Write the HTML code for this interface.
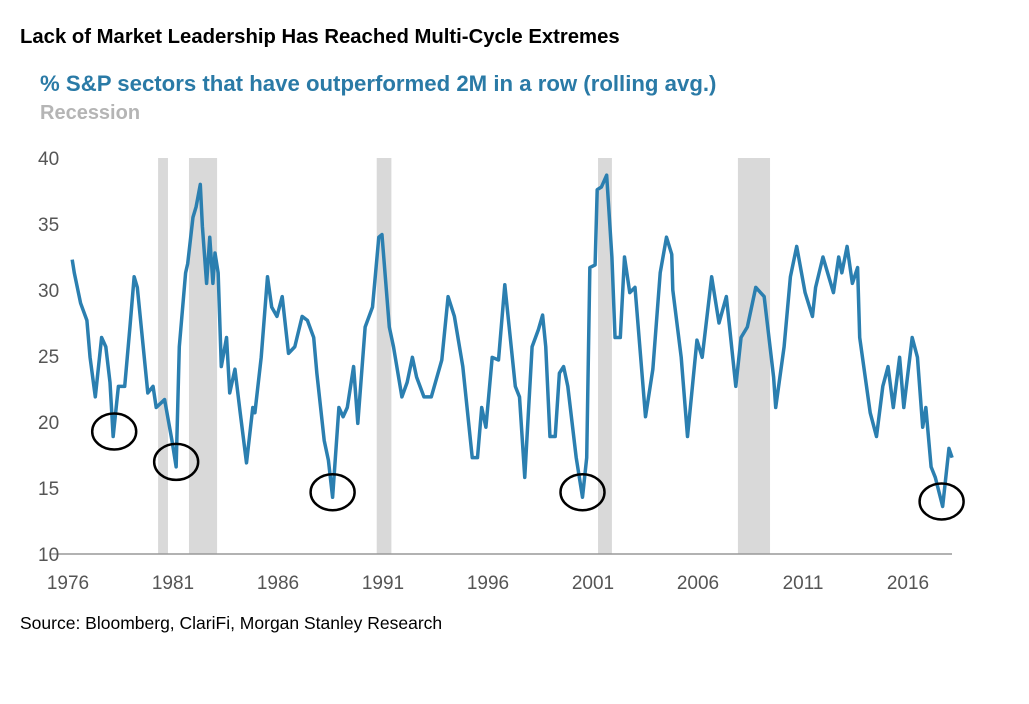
<!DOCTYPE html>
<html><head><meta charset="utf-8"><style>
body{margin:0;background:#fff;width:1029px;height:699px;overflow:hidden;font-family:"Liberation Sans",sans-serif}
</style></head><body>
<svg width="1029" height="699">
<text x="20" y="43" font-size="20.3" font-weight="bold" fill="#000">Lack of Market Leadership Has Reached Multi-Cycle Extremes</text>
<text x="40" y="91" font-size="22.2" font-weight="bold" fill="#2a7aa6">% S&amp;P sectors that have outperformed 2M in a row (rolling avg.)</text>
<text x="40" y="119" font-size="20" font-weight="bold" fill="#b5b5b5">Recession</text>
<g id="rec"></g><g id="axes"></g><g id="line"></g><g id="circ"></g>
<text x="20" y="629" font-size="17.5" fill="#000">Source: Bloomberg, ClariFi, Morgan Stanley Research</text>
</svg>
<script>
const years=[1976.2,1976.3,1976.6,1976.9,1977.05,1977.3,1977.6,1977.8,1978.0,1978.15,1978.4,1978.7,1978.95,1979.15,1979.3,1979.8,1980.05,1980.2,1980.6,1980.95,1981.15,1981.3,1981.6,1981.7,1981.95,1982.1,1982.3,1982.4,1982.6,1982.75,1982.9,1983.0,1983.15,1983.3,1983.55,1983.7,1983.95,1984.2,1984.5,1984.8,1984.9,1985.2,1985.5,1985.7,1985.95,1986.2,1986.5,1986.8,1987.15,1987.4,1987.7,1987.85,1988.2,1988.4,1988.6,1988.9,1989.1,1989.3,1989.6,1989.8,1990.15,1990.5,1990.8,1990.95,1991.3,1991.5,1991.9,1992.15,1992.4,1992.6,1992.95,1993.3,1993.8,1994.1,1994.4,1994.8,1995.25,1995.5,1995.7,1995.9,1996.2,1996.5,1996.8,1997.3,1997.5,1997.75,1998.1,1998.4,1998.6,1998.75,1998.95,1999.2,1999.4,1999.6,1999.8,2000.2,2000.5,2000.7,2000.85,2001.1,2001.2,2001.4,2001.65,2001.9,2002.05,2002.3,2002.5,2002.75,2003.0,2003.5,2003.85,2004.2,2004.5,2004.75,2004.8,2005.2,2005.5,2005.95,2006.2,2006.65,2007.0,2007.35,2007.8,2008.05,2008.35,2008.75,2009.15,2009.6,2009.7,2010.1,2010.4,2010.7,2011.1,2011.45,2011.6,2011.95,2012.45,2012.7,2012.85,2013.1,2013.35,2013.6,2013.7,2014.2,2014.5,2014.8,2015.05,2015.3,2015.6,2015.8,2016.2,2016.45,2016.7,2016.85,2017.1,2017.3,2017.65,2017.95,2018.1];
const values=[32.3,31.3,29.0,27.7,24.9,21.9,26.4,25.7,23.0,18.9,22.7,22.7,27.2,31.0,30.2,22.2,22.7,21.1,21.7,18.6,16.6,25.7,31.3,32.0,35.5,36.3,38.0,34.8,30.5,34.0,30.5,32.8,31.3,24.2,26.4,22.2,24.0,20.7,16.9,21.1,20.7,24.9,31.0,28.7,28.0,29.5,25.2,25.7,28.0,27.7,26.4,23.7,18.6,17.1,14.3,21.1,20.4,21.1,24.2,19.9,27.2,28.7,34.0,34.2,27.2,25.7,21.9,23.0,24.9,23.4,21.9,21.9,24.7,29.5,28.0,24.2,17.3,17.3,21.1,19.6,24.9,24.7,30.4,22.7,21.9,15.8,25.7,27.0,28.1,25.7,18.9,18.9,23.7,24.2,22.7,17.3,14.3,17.3,31.7,31.9,37.6,37.8,38.7,32.5,26.4,26.4,32.5,29.8,30.2,20.4,24.0,31.3,34.0,32.7,30.0,24.9,18.9,26.2,24.9,31.0,27.5,29.5,22.7,26.4,27.2,30.2,29.5,23.4,21.1,25.7,31.0,33.3,29.8,28.0,30.2,32.5,29.8,32.5,31.3,33.3,30.5,31.7,26.4,20.7,18.9,22.7,24.2,21.1,24.9,21.1,26.4,24.9,19.6,21.1,16.6,15.8,13.6,18.0,17.3];
const recStart=[1980.29,1981.76,1990.7,2001.24,2007.9];
const recEnd=[1980.76,1983.1,1991.4,2001.9,2009.43];
const yTicks=[10,15,20,25,30,35,40];
const xTicks=[1976,1981,1986,1991,1996,2001,2006,2011,2016];
const circleYears=[1978.2,1981.15,1988.6,2000.5,2017.6];
const circleVals=[18.9,16.6,14.3,14.3,13.6];
const NS='http://www.w3.org/2000/svg';
const X=y=>68+(y-1976)*21, Y=v=>554-(v-10)*13.2;
function mk(t,a,p){const e=document.createElementNS(NS,t);for(const k in a)e.setAttribute(k,a[k]);p.appendChild(e);return e;}
const rec=document.getElementById('rec');
recStart.forEach((s,i)=>{const r=mk('rect',{x:X(s),y:158,width:X(recEnd[i])-X(s),height:396,fill:'#d9d9d9'},rec);

});
const ax=document.getElementById('axes');
const bl=mk('line',{x1:50,x2:952,y1:554,y2:554,stroke:'#999','stroke-width':1.5},ax);


yTicks.forEach(v=>{const t=mk('text',{x:38,y:Y(v)+7,'font-size':19,fill:'#555'},ax);t.textContent=v;

});
xTicks.forEach(v=>{const t=mk('text',{x:X(v),y:589,'font-size':19,fill:'#555','text-anchor':'middle'},ax);t.textContent=v;

});
const pl=mk('polyline',{points:years.map((y,i)=>X(y)+','+Y(values[i])).join(' '),fill:'none',stroke:'#2b7fb0','stroke-width':3.5,'stroke-linejoin':'round'},document.getElementById('line'));


circleYears.forEach((y,i)=>{const c=mk('ellipse',{cx:X(y),cy:Y(circleVals[i])-5,rx:22,ry:18,fill:'none',stroke:'#000','stroke-width':2.5},document.getElementById('circ'));

});
</script>
</body></html>
